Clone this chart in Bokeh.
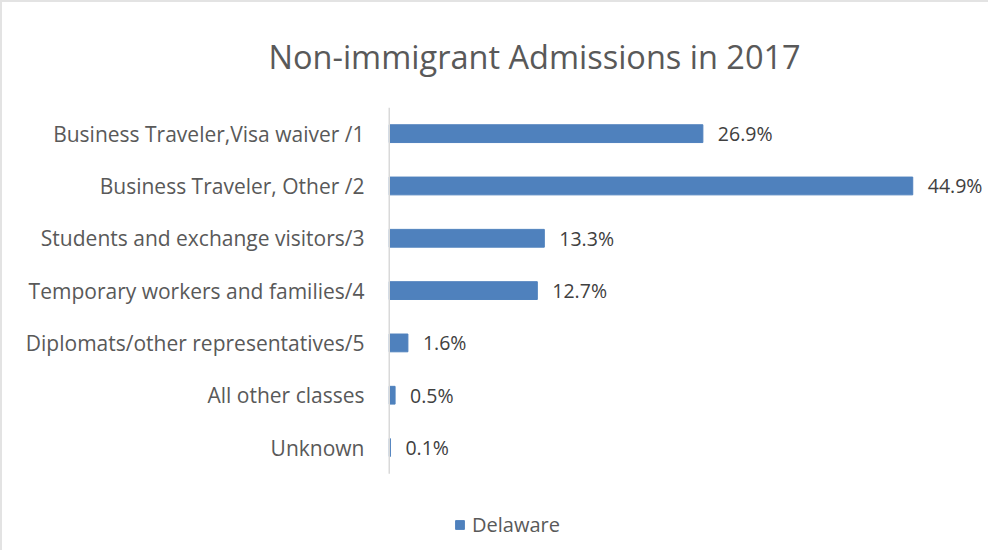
from bokeh.plotting import figure
from bokeh.models import ColumnDataSource, LabelSet, Legend, LegendItem, Range1d, FixedTicker
from bokeh.core.properties import value
from bokeh.embed import file_html
from bokeh.resources import INLINE

title_text = "Non-immigrant Admissions in 2017"
categories = [
    "Business Traveler,Visa waiver /1",
    "Business Traveler, Other /2",
    "Students and exchange visitors/3",
    "Temporary workers and families/4",
    "Diplomats/other representatives/5",
    "All other classes",
    "Unknown",
]
values = [26.9, 44.9, 13.3, 12.7, 1.6, 0.5, 0.1]
series_name = "Delaware"

n = len(categories)
labels = [f"{v:.1f}%" for v in values]
ypos = [n - 0.5 - i for i in range(n)]

src = ColumnDataSource(dict(cat=categories, val=values, lab=labels, y=ypos))

FONT = "Open Sans"
W, H = 988, 550

p = figure(width=W, height=H, output_backend="svg", toolbar_location=None,
           y_range=Range1d(-1.43, n), x_range=Range1d(-0.15, 51.57),
           min_border_left=385, min_border_right=0, min_border_top=104, min_border_bottom=4)
p.styles = {"border-top": "2px solid #e3e3e3", "border-left": "2px solid #e3e3e3"}

bars = p.hbar(y="y", right="val", left=0, height=0.34, source=src,
              fill_color="#4F81BD", line_color="#4F81BD")
p.segment(x0=[0], y0=[0], x1=[0], y1=[n], line_color="#d9d9d9", line_width=1.5)

p.add_layout(LabelSet(x="val", y="y", text="lab", source=src, x_offset=15,
                      text_baseline="middle", text_font=value(FONT), text_font_size="19.5px",
                      text_color="#404040"))

p.xaxis.visible = False
p.xgrid.visible = False
p.ygrid.visible = False
p.outline_line_color = None
p.yaxis.ticker = FixedTicker(ticks=ypos)
p.yaxis.major_label_overrides = {y: c for y, c in zip(ypos, categories)}
p.yaxis.axis_line_color = None
p.yaxis.major_tick_line_color = None
p.yaxis.minor_tick_line_color = None
p.yaxis.major_label_standoff = 17
p.yaxis.major_label_text_font = FONT
p.yaxis.major_label_text_font_size = "21px"
p.yaxis.major_label_text_color = "#595959"

p.title.text = title_text
p.title.align = "left"
p.title.offset = -119
p.title.text_font = FONT
p.title.text_font_size = "32.5px"
p.title.text_font_style = "normal"
p.title.text_color = "#595959"
p.title.standoff = 58

leg = Legend(items=[LegendItem(label=series_name, renderers=[bars])],
             location=(67, 10), orientation="horizontal",
             border_line_color=None, background_fill_alpha=0,
             glyph_width=11, glyph_height=11, label_text_font=FONT,
             label_text_font_size="20px", label_text_color="#595959",
             label_standoff=7, padding=4, margin=0)
p.add_layout(leg, "center")

open("out.html", "w").write(file_html(p, INLINE))
